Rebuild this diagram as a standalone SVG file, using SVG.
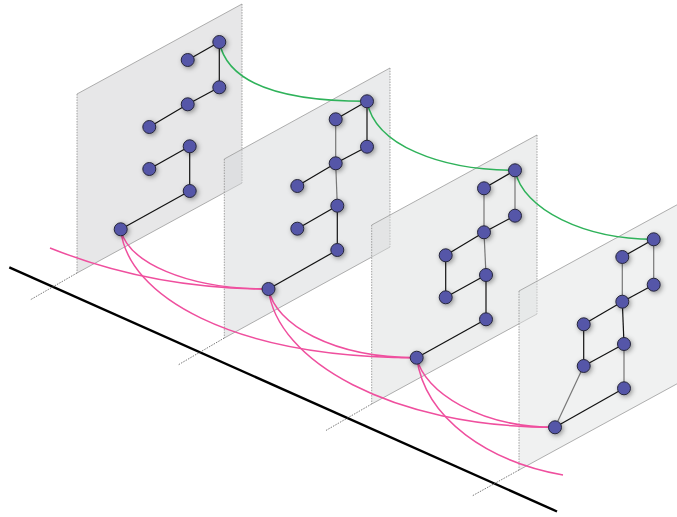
<svg xmlns="http://www.w3.org/2000/svg" width="677" height="517" viewBox="0 0 677 517">
<defs>
<style>
.plane{stroke:none}
.pe{fill:none;stroke:#9a9a9a;stroke-width:0.8}
.pv{fill:none;stroke:#8a8a8a;stroke-width:0.8;stroke-dasharray:1.5 1.2}
.ext{fill:none;stroke:#555;stroke-width:0.8;stroke-dasharray:1.5 1.2}
.axis{fill:none;stroke:#000;stroke-width:2.4}
.e{stroke:#111;stroke-width:1.2;fill:none}
.g{stroke:#777;stroke-width:1.2;fill:none}
.pink{fill:none;stroke:#ef4f9e;stroke-width:1.5}
.green{fill:none;stroke:#2fb25a;stroke-width:1.5}
.n{fill:#5556a8;stroke:#26263a;stroke-width:1;filter:url(#sh)}
</style>
<filter id="sh" x="-150%" y="-150%" width="400%" height="400%">
<feDropShadow dx="1.5" dy="1.5" stdDeviation="2.5" flood-color="#000" flood-opacity="0.4"/>
</filter>
</defs>
<rect width="677" height="517" fill="#fff"/>
<g id="base">
<line class="axis" x1="9.3" y1="267.3" x2="557" y2="511.5"/>
<line class="ext" x1="77" y1="273" x2="30" y2="300"/>
<line class="ext" x1="224.3" y1="338" x2="178" y2="365"/>
<line class="ext" x1="371.7" y1="404" x2="325" y2="431"/>
<line class="ext" x1="519" y1="470" x2="472" y2="496"/>
</g>
<g id="planes">
<g id="plane1">
<polygon class="plane" points="77,94 242,4 242,183 77,273" fill="#cfd0d2" fill-opacity="0.5"/>
<polyline class="pe" points="77,94 242,4"/><polyline class="pe" points="77,273 242,183"/>
<line class="pv" x1="77" y1="94" x2="77" y2="273"/><line class="pv" x1="242" y1="4" x2="242" y2="183"/>
</g>
<g id="plane2">
<polygon class="plane" points="224.3,159 390,68 390,247 224.3,338" fill="#d6d7d9" fill-opacity="0.5"/>
<polyline class="pe" points="224.3,159 390,68"/><polyline class="pe" points="224.3,338 390,247"/>
<line class="pv" x1="224.3" y1="159" x2="224.3" y2="338"/><line class="pv" x1="390" y1="68" x2="390" y2="247"/>
</g>
<g id="plane3">
<polygon class="plane" points="371.7,225 537,135 537,314 371.7,404" fill="#dcdede" fill-opacity="0.5"/>
<polyline class="pe" points="371.7,225 537,135"/><polyline class="pe" points="371.7,404 537,314"/>
<line class="pv" x1="371.7" y1="225" x2="371.7" y2="404"/><line class="pv" x1="537" y1="135" x2="537" y2="314"/>
</g>
<g id="plane4">
<polygon class="plane" points="519,291 684,201 684,380 519,470" fill="#e2e3e3" fill-opacity="0.5"/>
<polyline class="pe" points="519,291 684,201"/><polyline class="pe" points="519,470 684,380"/>
<line class="pv" x1="519" y1="291" x2="519" y2="470"/>
</g>
</g>
<g id="connectors">
<path class="pink" d="M50,248 C110,272 180,289 268.5,289"/>
<path class="pink" d="M120.7,229.3 C128,262 185,289 268.5,289"/>
<path class="pink" d="M120.7,229.3 C127,295 230,357.7 416.7,357.7"/>
<path class="pink" d="M268.5,289 C275,324 332,357.7 416.7,357.7"/>
<path class="pink" d="M268.5,289 C276,360 390,427.3 555,427.3"/>
<path class="pink" d="M416.7,357.7 C424,392 480,427.3 555,427.3"/>
<path class="pink" d="M416.7,357.7 C425,420 490,462 563,475"/>
<path class="green" d="M219.3,42 C228,86 288,101.3 367,101.3"/>
<path class="green" d="M367,101.3 C375,145 440,170.3 515,170.3"/>
<path class="green" d="M515,170.3 C523,210 585,239.3 653.7,239.3"/>
<line class="e" x1="219.3" y1="42" x2="187.7" y2="60"/>
<line class="e" x1="219.3" y1="42" x2="219.3" y2="87.3"/>
<line class="e" x1="219.3" y1="87.3" x2="187.7" y2="104.3"/>
<line class="e" x1="187.7" y1="104.3" x2="149.3" y2="127"/>
<line class="e" x1="189.7" y1="146.3" x2="149.3" y2="169"/>
<line class="e" x1="189.7" y1="146.3" x2="189.7" y2="191"/>
<line class="e" x1="189.7" y1="191" x2="120.7" y2="229.3"/>
<line class="e" x1="367" y1="101.3" x2="335.7" y2="119.3"/>
<line class="e" x1="367" y1="101.3" x2="367" y2="146.7"/>
<line class="g" x1="335.7" y1="119.3" x2="335.7" y2="163.3"/>
<line class="e" x1="367" y1="146.7" x2="335.7" y2="163.3"/>
<line class="e" x1="335.7" y1="163.3" x2="297.3" y2="186"/>
<line class="g" x1="335.7" y1="163.3" x2="337.3" y2="205.7"/>
<line class="e" x1="337.3" y1="205.7" x2="297.3" y2="228.7"/>
<line class="e" x1="337.3" y1="205.7" x2="337.3" y2="250"/>
<line class="e" x1="337.3" y1="250" x2="268.5" y2="289"/>
<line class="e" x1="515" y1="170.3" x2="484" y2="188.3"/>
<line class="g" x1="515" y1="170.3" x2="515" y2="215.7"/>
<line class="g" x1="484" y1="188.3" x2="484" y2="232.3"/>
<line class="e" x1="515" y1="215.7" x2="484" y2="232.3"/>
<line class="e" x1="484" y1="232.3" x2="445.7" y2="255.3"/>
<line class="g" x1="484" y1="232.3" x2="486" y2="275"/>
<line class="e" x1="445.7" y1="255.3" x2="445.7" y2="297.3"/>
<line class="e" x1="486" y1="275" x2="445.7" y2="297.3"/>
<line class="e" x1="486" y1="275" x2="486" y2="319.3"/>
<line class="e" x1="486" y1="319.3" x2="416.7" y2="357.7"/>
<line class="e" x1="653.7" y1="239.3" x2="622.3" y2="257"/>
<line class="g" x1="653.7" y1="239.3" x2="653.7" y2="284.7"/>
<line class="g" x1="622.3" y1="257" x2="622.3" y2="301.7"/>
<line class="e" x1="653.7" y1="284.7" x2="622.3" y2="301.7"/>
<line class="e" x1="622.3" y1="301.7" x2="583.7" y2="324.3"/>
<line class="e" x1="622.3" y1="301.7" x2="624" y2="344"/>
<line class="e" x1="583.7" y1="324.3" x2="583.7" y2="366"/>
<line class="e" x1="624" y1="344" x2="583.7" y2="366"/>
<line class="g" x1="624" y1="344" x2="624" y2="388.3"/>
<line class="e" x1="624" y1="388.3" x2="555" y2="427.3"/>
<line class="g" x1="583.7" y1="366" x2="555" y2="427.3"/>
</g>
<g id="nodes">
<g id="p1A"><circle class="n" cx="219.3" cy="42" r="6.5"/></g>
<g id="p1B"><circle class="n" cx="187.7" cy="60" r="6.5"/></g>
<g id="p1C"><circle class="n" cx="219.3" cy="87.3" r="6.5"/></g>
<g id="p1D"><circle class="n" cx="187.7" cy="104.3" r="6.5"/></g>
<g id="p1E"><circle class="n" cx="149.3" cy="127" r="6.5"/></g>
<g id="p1F"><circle class="n" cx="189.7" cy="146.3" r="6.5"/></g>
<g id="p1G"><circle class="n" cx="149.3" cy="169" r="6.5"/></g>
<g id="p1H"><circle class="n" cx="189.7" cy="191" r="6.5"/></g>
<g id="p1I"><circle class="n" cx="120.7" cy="229.3" r="6.5"/></g>
<g id="p2A"><circle class="n" cx="367" cy="101.3" r="6.5"/></g>
<g id="p2B"><circle class="n" cx="335.7" cy="119.3" r="6.5"/></g>
<g id="p2C"><circle class="n" cx="367" cy="146.7" r="6.5"/></g>
<g id="p2D"><circle class="n" cx="335.7" cy="163.3" r="6.5"/></g>
<g id="p2E"><circle class="n" cx="297.3" cy="186" r="6.5"/></g>
<g id="p2F"><circle class="n" cx="337.3" cy="205.7" r="6.5"/></g>
<g id="p2G"><circle class="n" cx="297.3" cy="228.7" r="6.5"/></g>
<g id="p2H"><circle class="n" cx="337.3" cy="250" r="6.5"/></g>
<g id="p2I"><circle class="n" cx="268.5" cy="289" r="6.5"/></g>
<g id="p3A"><circle class="n" cx="515" cy="170.3" r="6.5"/></g>
<g id="p3B"><circle class="n" cx="484" cy="188.3" r="6.5"/></g>
<g id="p3C"><circle class="n" cx="515" cy="215.7" r="6.5"/></g>
<g id="p3D"><circle class="n" cx="484" cy="232.3" r="6.5"/></g>
<g id="p3E"><circle class="n" cx="445.7" cy="255.3" r="6.5"/></g>
<g id="p3F"><circle class="n" cx="486" cy="275" r="6.5"/></g>
<g id="p3G"><circle class="n" cx="445.7" cy="297.3" r="6.5"/></g>
<g id="p3H"><circle class="n" cx="486" cy="319.3" r="6.5"/></g>
<g id="p3I"><circle class="n" cx="416.7" cy="357.7" r="6.5"/></g>
<g id="p4A"><circle class="n" cx="653.7" cy="239.3" r="6.5"/></g>
<g id="p4B"><circle class="n" cx="622.3" cy="257" r="6.5"/></g>
<g id="p4C"><circle class="n" cx="653.7" cy="284.7" r="6.5"/></g>
<g id="p4D"><circle class="n" cx="622.3" cy="301.7" r="6.5"/></g>
<g id="p4E"><circle class="n" cx="583.7" cy="324.3" r="6.5"/></g>
<g id="p4F"><circle class="n" cx="624" cy="344" r="6.5"/></g>
<g id="p4G"><circle class="n" cx="583.7" cy="366" r="6.5"/></g>
<g id="p4H"><circle class="n" cx="624" cy="388.3" r="6.5"/></g>
<g id="p4I"><circle class="n" cx="555" cy="427.3" r="6.5"/></g>
</g>
</svg>
